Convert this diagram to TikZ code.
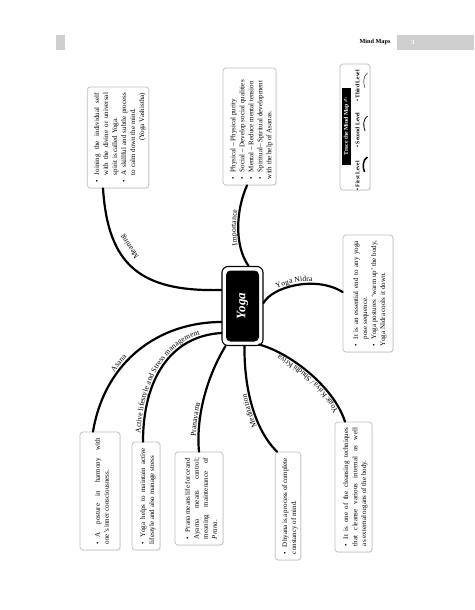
\documentclass[tikz,border=0pt]{standalone}
\usepackage{fontspec}
\setmainfont{Liberation Serif}
\newfontfamily\symfont{DejaVu Sans}
\usetikzlibrary{shadows,decorations.text,calc}
\tolerance=10000
\hbadness=10000
\newcommand{\bitem}{\par\noindent\hangindent=7pt\hangafter=1\makebox[7pt][l]{\textbullet}\ignorespaces}
\newcommand{\lblfont}{\fontsize{7.6}{9}\selectfont}
\definecolor{hdrgray}{HTML}{CFCFCF}
\tikzset{
  branch/.style={line width=2.2pt, line cap=round},
  infobox/.style={draw=gray!50, line width=0.7pt, fill=white, rounded corners=3pt, rotate=90,
    inner xsep=6pt, inner ysep=3pt, align=justify,
    font=\fontsize{7}{9}\selectfont,
    drop shadow={opacity=0.22, shadow xshift=0.7pt, shadow yshift=-0.7pt}},
  lvltext/.style={rotate=90, font=\fontsize{5.6}{6}\selectfont\bfseries, inner sep=0pt},
}
\begin{document}
\begin{tikzpicture}[x=1pt,y=1pt]
\useasboundingbox (0,0) rectangle (474,-610);
% header
\fill[hdrgray] (56,-35) rectangle (65,-50);
\fill[hdrgray] (397,-35) rectangle (474,-50);
\node[font=\fontsize{6.2}{7}\selectfont\bfseries] (hdr) at (375,-42.5) {Mind Maps};
\node[text=white, font=\fontsize{6.2}{7}\selectfont\bfseries] (pg) at (413,-42.5) {3};

% central node
\node[draw, line width=1.1pt, rounded corners=6pt, minimum width=41pt, minimum height=79pt, inner sep=0pt] (yoga) at (242.5,-306) {};
\node[fill=black, rounded corners=4.5pt, minimum width=33pt, minimum height=71pt, inner sep=0pt] (yogain) at (yoga.center)
  {\rotatebox{90}{\fontsize{13}{14}\selectfont\bfseries\itshape\color{white}Yoga}};

% boxes
\node[infobox, minimum width=101pt, minimum height=60pt, text width=89pt] (meaning) at (118,-137.5)
 {\bitem Joining the individual self\linebreak with the divine or universal\linebreak spirit is called Yoga.
  \bitem A skillful and subtle process\linebreak to calm down the mind.\par\noindent\hfill(Yoga Vashistha)};
\node[infobox, minimum width=117pt, minimum height=53pt, text width=105pt] (imp) at (249.5,-126.5)
 {\bitem Physical -- Physical purity
  \bitem Social -- Develop social qualities
  \bitem Mental -- Reduce mental tension
  \bitem Spiritual-- Spiritual development\newline with the help of Asanas.};
\node[infobox, minimum width=126pt, minimum height=30pt] (trace) at (355,-127) {};
\node[fill=black, text=white, rotate=90, font=\fontsize{5.8}{6}\selectfont\bfseries, minimum width=77pt, minimum height=9pt, inner sep=1pt] (tracehead) at (346.5,-126.5) {Trace the Mind Map {\symfont\fontsize{6}{6}\selectfont ✍}};
\node[lvltext] (lv1) at (357.5,-176) {\textbullet\ First Level};
\node[lvltext] (lv2) at (357.5,-130) {\textbullet\ Second Level};
\node[lvltext] (lv3) at (357.5,-86) {\textbullet\ Third Level};
\draw[line width=1.5pt] (367.5,-157) .. controls (362.5,-160) and (362.5,-167) .. (364.5,-172);
\draw[line width=0.8pt] (367.5,-116) .. controls (363,-119) and (363,-126) .. (365,-131);
\draw[line width=0.4pt] (367.5,-73) .. controls (363,-76) and (363,-83) .. (365,-88);

\node[infobox, minimum width=117pt, minimum height=50pt, text width=105pt] (nidra) at (368,-293.5)
 {\bitem It is an essential end to any yoga\linebreak pose sequence.
  \bitem Yoga postures `warm up' the body,\linebreak Yoga Nidra cools it down.};
\node[infobox, minimum width=130pt, minimum height=37pt, text width=118pt] (kriya) at (353.5,-487)
 {\bitem It is one of the cleansing techniques\linebreak that cleanse various internal as well\linebreak as external organs of the body.};
\node[infobox, minimum width=108pt, minimum height=24pt, text width=96pt] (dhy) at (288,-506)
 {\bitem Dhyana is a process of complete\linebreak constancy of mind.};
\node[infobox, minimum width=93pt, minimum height=48pt, text width=81pt] (prana) at (199,-498.5)
 {\bitem Prana means life force and\linebreak Ayama means control;\linebreak meaning maintenance of\linebreak \textit{Prana}.};
\node[infobox, minimum width=108pt, minimum height=28pt, text width=96pt] (act) at (146,-496)
 {\bitem Yoga helps to maintain active\linebreak lifestyle and also manage stress};
\node[infobox, minimum width=118pt, minimum height=40pt, text width=106pt] (asana) at (100,-491)
 {\bitem A posture in harmony with\linebreak one's inner consciousness.};

% connectors
\draw[branch] ([xshift=-15pt]meaning.west) .. controls (108,-265) and (140,-292) .. ([yshift=16pt]yoga.west);
\draw[branch] ([xshift=-2.5pt]imp.west) .. controls (236,-210) and (234,-245) .. ([xshift=6pt]yoga.north);
\draw[branch] ([yshift=3pt]yoga.east) .. controls (272,-287) and (315,-275) .. ([yshift=1.5pt]nidra.north);
\draw[branch] ([shift={(-4.5pt,1.5pt)}]yoga.south east) .. controls (288,-352) and (333,-385) .. ([xshift=-8.5pt]kriya.east);
\draw[branch] ([xshift=2pt]yoga.south) .. controls (244,-390) and (255,-430) .. ([xshift=-11pt]dhy.east);
\draw[branch] ([xshift=-17pt]yoga.south) .. controls (205,-380) and (196,-420) .. (prana.east);
\draw[branch] ([yshift=-27pt]yoga.west) .. controls (170,-336) and (143,-380) .. ([xshift=-3pt]act.east);
\draw[branch] ([yshift=-16pt]yoga.west) .. controls (160,-322) and (105,-360) .. ([xshift=-7pt]asana.east);

% labels along connectors
\node[font=\lblfont, rotate=125, inner sep=0pt] (lblmeaning) at (130,-246.5) {Meaning};
\path[decorate, decoration={text along path, raise=2.2pt, text align={left indent=23pt}, text={|\lblfont|Importance}}]
  ([xshift=6pt]yoga.north) .. controls (234,-245) and (236,-210) .. ([xshift=-2.5pt]imp.west);
\path[decorate, decoration={text along path, raise=2.5pt, text align={left indent=19pt}, text={|\lblfont|Yoga Nidra}}]
  ([yshift=3pt]yoga.east) .. controls (272,-287) and (315,-275) .. ([yshift=1.5pt]nidra.north);
\path[decorate, decoration={text along path, raise=2.5pt, text align={left indent=12pt}, text={|\lblfont|Yogic Kriya / Shudhi Kriya}}]
  ([xshift=-8.5pt]kriya.east) .. controls (333,-385) and (288,-352) .. ([shift={(-4.5pt,1.5pt)}]yoga.south east);
\path[decorate, decoration={text along path, raise=2.5pt, text align={left indent=32pt}, text={|\lblfont|Meditation}}]
  ([xshift=-11pt]dhy.east) .. controls (255,-430) and (244,-390) .. ([xshift=2pt]yoga.south);
\path[decorate, decoration={text along path, raise=2.5pt, text align={left indent=15pt}, text={|\lblfont|Pranayama}}]
  (prana.east) .. controls (196,-420) and (205,-380) .. ([xshift=-17pt]yoga.south);
\path[decorate, decoration={text along path, raise=2.5pt, text align={left indent=8pt}, text={|\lblfont|Active lifestyle and Stress management}}]
  ([xshift=-3pt]act.east) .. controls (143,-380) and (170,-336) .. ([yshift=-27pt]yoga.west);
\path[decorate, decoration={text along path, raise=2.5pt, text align={left indent=63pt}, text={|\lblfont|Asana}}]
  ([xshift=-7pt]asana.east) .. controls (105,-360) and (160,-322) .. ([yshift=-16pt]yoga.west);
\end{tikzpicture}
\end{document}
